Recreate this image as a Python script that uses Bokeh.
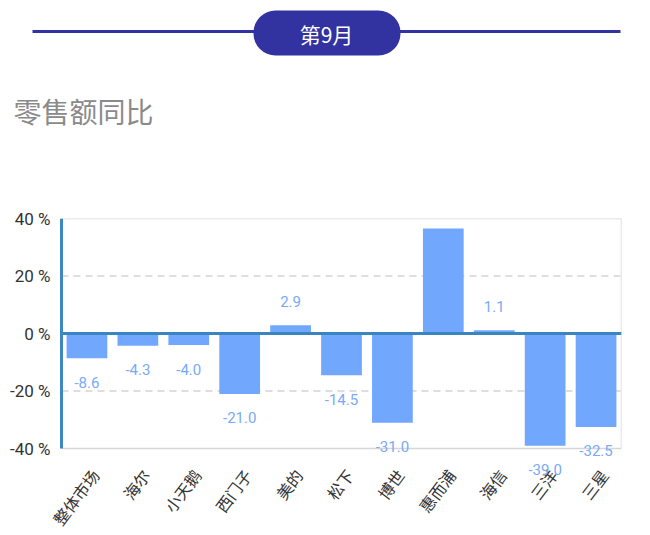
import math
from bokeh.plotting import figure
from bokeh.models import (Range1d, ColumnDataSource, LabelSet, Label,
                          BoxAnnotation, FixedTicker)
from bokeh.layouts import column
from bokeh.embed import file_html
from bokeh.resources import INLINE
from bokeh.core.properties import value

month_label = "第9月"
chart_title = "零售额同比"
brands = ["整体市场", "海尔", "小天鹅", "西门子", "美的", "松下", "博世", "惠而浦", "海信", "三洋", "三星"]
yoy = [-8.6, -4.3, -4.0, -21.0, 2.9, -14.5, -31.0, 36.5, 1.1, -39.0, -32.5]
y_ticks = [-40, -20, 0, 20, 40]
y_tick_labels = ["-40 %", "-20 %", "0 %", "20 %", "40 %"]
grid_ticks = [-20, 20]
y_min, y_max = -40, 40

CJK = "Noto Sans CJK SC"
NUM = "Roboto"

W, H = 650, 535
HEADER_H = 158

# ---------- header ----------
h = figure(width=W, height=HEADER_H, x_range=Range1d(0, W), y_range=Range1d(HEADER_H, 0),
           output_backend="svg", toolbar_location=None,
           x_axis_location=None, y_axis_location=None, min_border=0)
h.frame_align = False
h.grid.visible = False
h.outline_line_color = None
h.background_fill_color = "white"
h.border_fill_color = "white"
h.segment(x0=[32], y0=[31], x1=[620], y1=[31], line_color="#3232a0", line_width=3)
h.add_layout(BoxAnnotation(left=253, right=400, top=10, bottom=55, border_radius=22,
                           fill_color="#3232a0", fill_alpha=1.0, line_color=None))
h.add_layout(Label(x=326, y=33, text=month_label, text_color="white",
                   text_font=CJK, text_font_size="21px",
                   text_align="center", text_baseline="middle"))
h.text(x=[13], y=[110], text=[chart_title], text_color="#8a8a8a",
       text_font=value(CJK), text_font_size="28px",
       text_align="left", text_baseline="middle")

# ---------- chart ----------
# pixel layout of the plot box (page coordinates)
AXIS_L, BOX_R, BOX_T, BOX_B = 61, 621, 218, 448
FRAME_L, FRAME_B = 40, 532
n = len(brands)
px_per_cat = (BOX_R - AXIS_L) / n
px_per_unit = (BOX_B - BOX_T) / (y_max - y_min)
x_start = -(AXIS_L - FRAME_L) / px_per_cat
y_bottom = y_max - (FRAME_B - BOX_T) / px_per_unit
chart_h = H - HEADER_H

src = ColumnDataSource(dict(
    xc=[i + 0.5 for i in range(n)],
    brand=brands,
    yoy=yoy,
    base=[y_min] * n,
    label=[f"{v:.1f}" for v in yoy],
    off=[24 if v >= 0 else -24 for v in yoy],
))

p = figure(width=W, height=chart_h, x_range=Range1d(x_start, n),
           y_range=Range1d(y_bottom, y_max), output_backend="svg", toolbar_location=None,
           x_axis_location=None,
           min_border_left=FRAME_L, min_border_right=W - BOX_R,
           min_border_top=BOX_T - HEADER_H, min_border_bottom=H - FRAME_B)
p.background_fill_color = "white"
p.border_fill_color = "white"
p.outline_line_color = None
p.grid.visible = False

# dashed grid lines
p.segment(x0=[0] * len(grid_ticks), y0=grid_ticks, x1=[n] * len(grid_ticks), y1=grid_ticks,
          line_color="#d4d4d4", line_width=1.5, line_dash="7 5")

# plot box (top, right, bottom edges)
p.line(x=[0, n, n, 0], y=[y_max, y_max, y_min, y_min], line_color="#d6d6d6", line_width=1.5)

p.vbar(x="xc", top="yoy", bottom=0, width=0.8, source=src,
       fill_color="#71a7fc", line_color=None)

# zero line and left axis line
p.segment(x0=[0], y0=[0], x1=[n], y1=[0], line_color="#3a84bf", line_width=3)
p.segment(x0=[0], y0=[y_min], x1=[0], y1=[y_max], line_color="#3d87c2", line_width=3)

p.add_layout(LabelSet(x="xc", y="yoy", text="label", y_offset="off", source=src,
                      text_font=value(NUM), text_font_size="15px", text_color="#78aaf8",
                      text_align="center", text_baseline="middle"))

# category labels under the plot box
p.text(x="xc", y="base", text="brand", source=src, angle=math.radians(53),
       x_offset=8, y_offset=23,
       text_font=value(CJK), text_font_size="16px", text_color="#333333",
       text_align="right", text_baseline="middle")

p.yaxis.ticker = FixedTicker(ticks=y_ticks)
p.yaxis.major_label_overrides = {t: l for t, l in zip(y_ticks, y_tick_labels)}
p.yaxis.major_tick_line_color = None
p.yaxis.major_tick_out = 0
p.yaxis.major_tick_in = 0
p.yaxis.minor_tick_line_color = None
p.yaxis.axis_line_color = None
p.yaxis.major_label_text_font = NUM
p.yaxis.major_label_text_font_size = "17px"
p.yaxis.major_label_text_color = "#333333"
p.yaxis.major_label_standoff = -(AXIS_L - FRAME_L) + 11

layout = column(h, p)
open("out.html", "w").write(file_html(layout, INLINE))
